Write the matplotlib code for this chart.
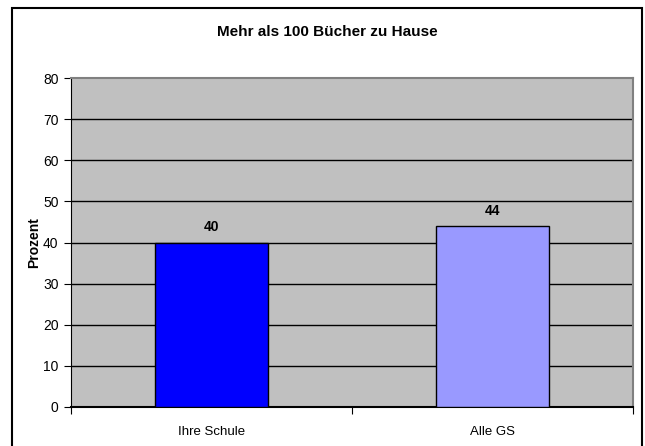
import matplotlib.pyplot as plt
from matplotlib.patches import Rectangle

plt.rcParams['font.family'] = ['Liberation Sans', 'DejaVu Sans']

# data
categories = ["Ihre Schule", "Alle GS"]
values = [40, 44]
bar_colors = ["#0000FF", "#9999FF"]
yticks = [0, 10, 20, 30, 40, 50, 60, 70, 80]

fig = plt.figure(figsize=(6.45, 4.46), dpi=100)
ax = fig.add_axes([71/645, 39/446, 562/645, 329/446])
ax.set_facecolor("#C0C0C0")

x = list(range(len(categories)))
ax.bar(x, values, width=0.4, color=bar_colors, edgecolor="black", linewidth=1, zorder=3)
for xi, v in zip(x, values):
    ax.text(xi, v + 2, str(v), ha="center", va="bottom", fontsize=10, fontweight="bold")

ax.set_xlim(-0.5, 1.5)
ax.set_ylim(0, 80)
ax.set_yticks(yticks)
for y in yticks[1:-1]:
    ax.axhline(y, color="black", linewidth=1, zorder=1)

# category labels between boundary ticks
ax.set_xticks([-0.5, 0.5, 1.5])
ax.set_xticklabels([])
ax.set_xticks(x, minor=True)
ax.set_xticklabels(categories, minor=True, fontsize=9.5)
ax.tick_params(axis="x", which="minor", length=0, pad=14)
ax.tick_params(axis="x", which="major", length=5, direction="out")
ax.tick_params(axis="y", labelsize=10, length=5, direction="out", pad=4)

ax.set_ylabel("Prozent", fontsize=10, fontweight="bold", labelpad=1)

for s in ["top", "right"]:
    ax.spines[s].set_color("#808080")
    ax.spines[s].set_linewidth(1.5)
ax.spines["left"].set_color("black")
ax.spines["bottom"].set_color("black")
ax.spines["bottom"].set_linewidth(1.5)

fig.text(327/645, 1 - 32/446, "Mehr als 100 Bücher zu Hause", ha="center", va="center",
         fontsize=11, fontweight="bold")

# outer chart border
fig.patches.append(Rectangle((12/645, -0.1), 630/645, (438/446) + 0.1, transform=fig.transFigure,
                             fill=False, edgecolor="black", linewidth=1.5, clip_on=False))

fig.savefig("out.png", dpi=100)
